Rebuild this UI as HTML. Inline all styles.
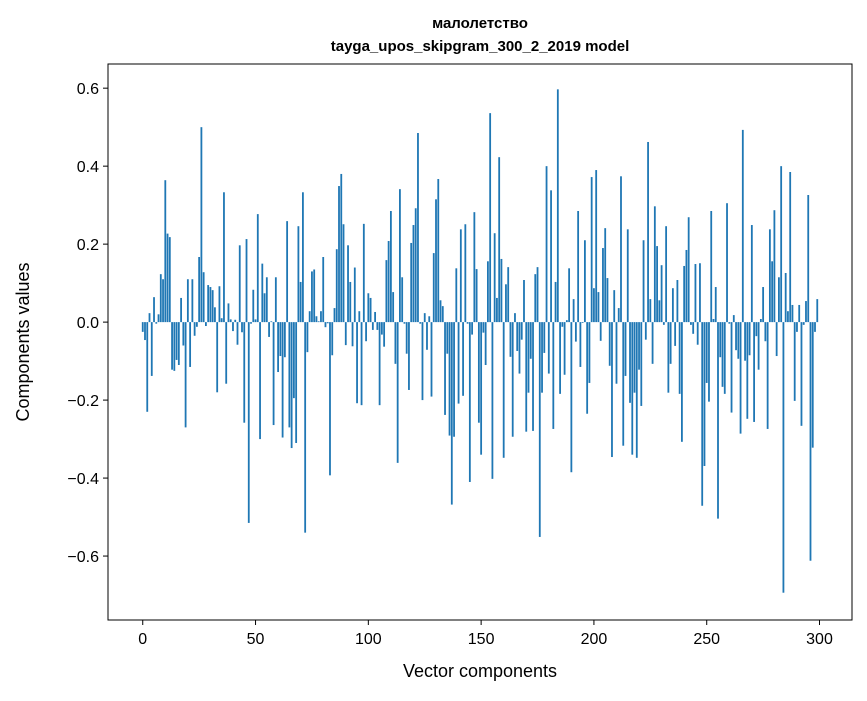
<!DOCTYPE html>
<html><head><meta charset="utf-8"><style>
body{margin:0;background:#fff;font-family:"Liberation Sans","DejaVu Sans",sans-serif;}
</style></head><body>
<svg id="chart" width="867" height="696" xmlns="http://www.w3.org/2000/svg" font-family="Liberation Sans, DejaVu Sans, sans-serif">
<text x="480" y="28" text-anchor="middle" font-size="15" font-weight="bold">малолетство</text>
<text x="480" y="51" text-anchor="middle" font-size="15" font-weight="bold">tayga_upos_skipgram_300_2_2019 model</text>
<g id="bars"></g>
<g id="axes"></g>
<rect x="108" y="64" width="744" height="556" fill="none" stroke="#000" stroke-width="1"/>
<text x="480" y="677" text-anchor="middle" font-size="18">Vector components</text>
<text transform="translate(29,342) rotate(-90)" text-anchor="middle" font-size="18">Components values</text>
</svg>
<script>
const values = [-0.025,-0.046,-0.23,0.023,-0.138,0.064,-0.004,0.02,0.123,0.11,0.364,0.227,0.218,-0.122,-0.125,-0.097,-0.11,0.062,
-0.06,-0.27,0.11,-0.115,0.11,-0.035,-0.012,0.167,0.50,0.128,-0.01,0.095,0.09,0.082,0.038,-0.18,0.092,0.01,0.333,-0.158,0.048,0.007,-0.023,0.006,-0.058,0.197,-0.026,-0.258,0.213,-0.515,
-0.004,0.083,0.007,0.277,-0.30,0.15,0.074,0.115,-0.038,0.002,-0.264,0.115,-0.128,-0.087,-0.296,-0.09,0.259,-0.27,-0.323,-0.195,-0.31,0.246,0.103,0.333,-0.54,
-0.077,0.028,0.13,0.135,0.015,0.002,0.028,0.167,-0.013,-0.003,-0.393,-0.085,0.036,0.187,0.349,0.38,0.251,-0.059,0.197,0.103,-0.062,0.14,-0.208,0.028,-0.213,0.252,-0.049,0.074,
0.062,-0.02,0.026,-0.02,-0.213,-0.032,-0.063,0.159,0.208,0.285,0.077,-0.107,-0.361,0.341,0.115,-0.004,-0.081,-0.174,0.203,0.249,0.292,0.485,-0.004,-0.2,0.023,-0.071,0.015,-0.191,0.177,0.315,0.367,0.056,0.041,-0.238,-0.081,-0.291,-0.468,-0.294,0.138,-0.209,0.238,-0.189,0.251,-0.004,-0.41,-0.032,0.282,0.136,-0.258,-0.34,-0.027,-0.11,
0.156,0.536,-0.402,0.228,0.062,0.423,0.162,-0.348,0.097,0.141,-0.089,-0.294,0.023,-0.074,-0.132,-0.045,0.108,-0.281,-0.181,-0.094,-0.279,0.123,0.141,-0.551,-0.181,-0.079,0.4,-0.132,0.338,-0.274,0.103,0.597,-0.184,-0.012,-0.135,0.005,0.138,-0.385,0.059,-0.05,0.285,-0.115,-0.002,0.21,-0.235,-0.156,0.372,0.087,0.39,0.077,-0.048,0.19,
0.241,0.113,-0.112,-0.346,0.082,-0.158,0.036,0.374,-0.317,-0.138,0.238,-0.207,-0.34,-0.181,-0.348,-0.122,-0.215,0.21,-0.045,0.462,0.059,-0.107,0.297,0.195,0.056,0.146,-0.007,0.246,-0.181,-0.107,0.087,-0.061,0.108,-0.184,-0.307,0.144,0.185,0.269,-0.007,-0.03,0.149,-0.058,0.151,-0.471,-0.369,-0.156,-0.204,0.285,0.008,0.09,-0.504,
-0.09,-0.166,-0.184,0.305,-0.004,-0.232,0.018,-0.072,-0.094,-0.286,0.493,-0.099,-0.248,-0.085,0.249,-0.256,-0.036,-0.122,0.008,0.09,-0.049,-0.274,0.238,0.156,0.287,-0.087,0.115,0.4,-0.694,0.126,0.028,0.385,0.044,-0.202,-0.025,0.044,-0.266,-0.007,0.054,0.326,-0.612,-0.322,-0.025,0.059];
const xTicks = [0,50,100,150,200,250,300];
const yTicks = [-0.6,-0.4,-0.2,0.0,0.2,0.4,0.6];
const yTickLabels = ["−0.6","−0.4","−0.2","0.0","0.2","0.4","0.6"];

const NS="http://www.w3.org/2000/svg";
const L=108,R=852,T=64,B=620;
const xmin=-15.4,xmax=314.4,ymin=-0.764,ymax=0.662;
function xs(v){return L+(v-xmin)/(xmax-xmin)*(R-L);}
function ys(v){return B-(v-ymin)/(ymax-ymin)*(B-T);}
const bars=document.getElementById('bars');
const bw=xs(0.8)-xs(0);
values.forEach((v,i)=>{
  const r=document.createElementNS(NS,'rect');
  const y0=ys(0),y1=ys(v);
  r.setAttribute('x',xs(i)-bw/2);
  r.setAttribute('y',Math.min(y0,y1));
  r.setAttribute('width',bw);
  r.setAttribute('height',Math.abs(y1-y0));
  r.setAttribute('fill','#1f77b4');
  
  
  bars.appendChild(r);
});
const axes=document.getElementById('axes');
xTicks.forEach(t=>{
  const x=xs(t);
  const l=document.createElementNS(NS,'line');
  l.setAttribute('x1',x);l.setAttribute('x2',x);l.setAttribute('y1',B);l.setAttribute('y2',B+5);
  l.setAttribute('stroke','#000');
  
  
  axes.appendChild(l);
  const tx=document.createElementNS(NS,'text');
  tx.setAttribute('x',x);tx.setAttribute('y',B+24);tx.setAttribute('text-anchor','middle');tx.setAttribute('font-size','16');
  tx.textContent=t;
  
  
  axes.appendChild(tx);
});
yTicks.forEach((t,k)=>{
  const y=ys(t);
  const l=document.createElementNS(NS,'line');
  l.setAttribute('x1',L-5);l.setAttribute('x2',L);l.setAttribute('y1',y);l.setAttribute('y2',y);
  l.setAttribute('stroke','#000');
  
  
  axes.appendChild(l);
  const tx=document.createElementNS(NS,'text');
  tx.setAttribute('x',L-9);tx.setAttribute('y',y+6);tx.setAttribute('text-anchor','end');tx.setAttribute('font-size','16');
  tx.textContent=yTickLabels[k];
  
  
  axes.appendChild(tx);
});
</script>
</body></html>
